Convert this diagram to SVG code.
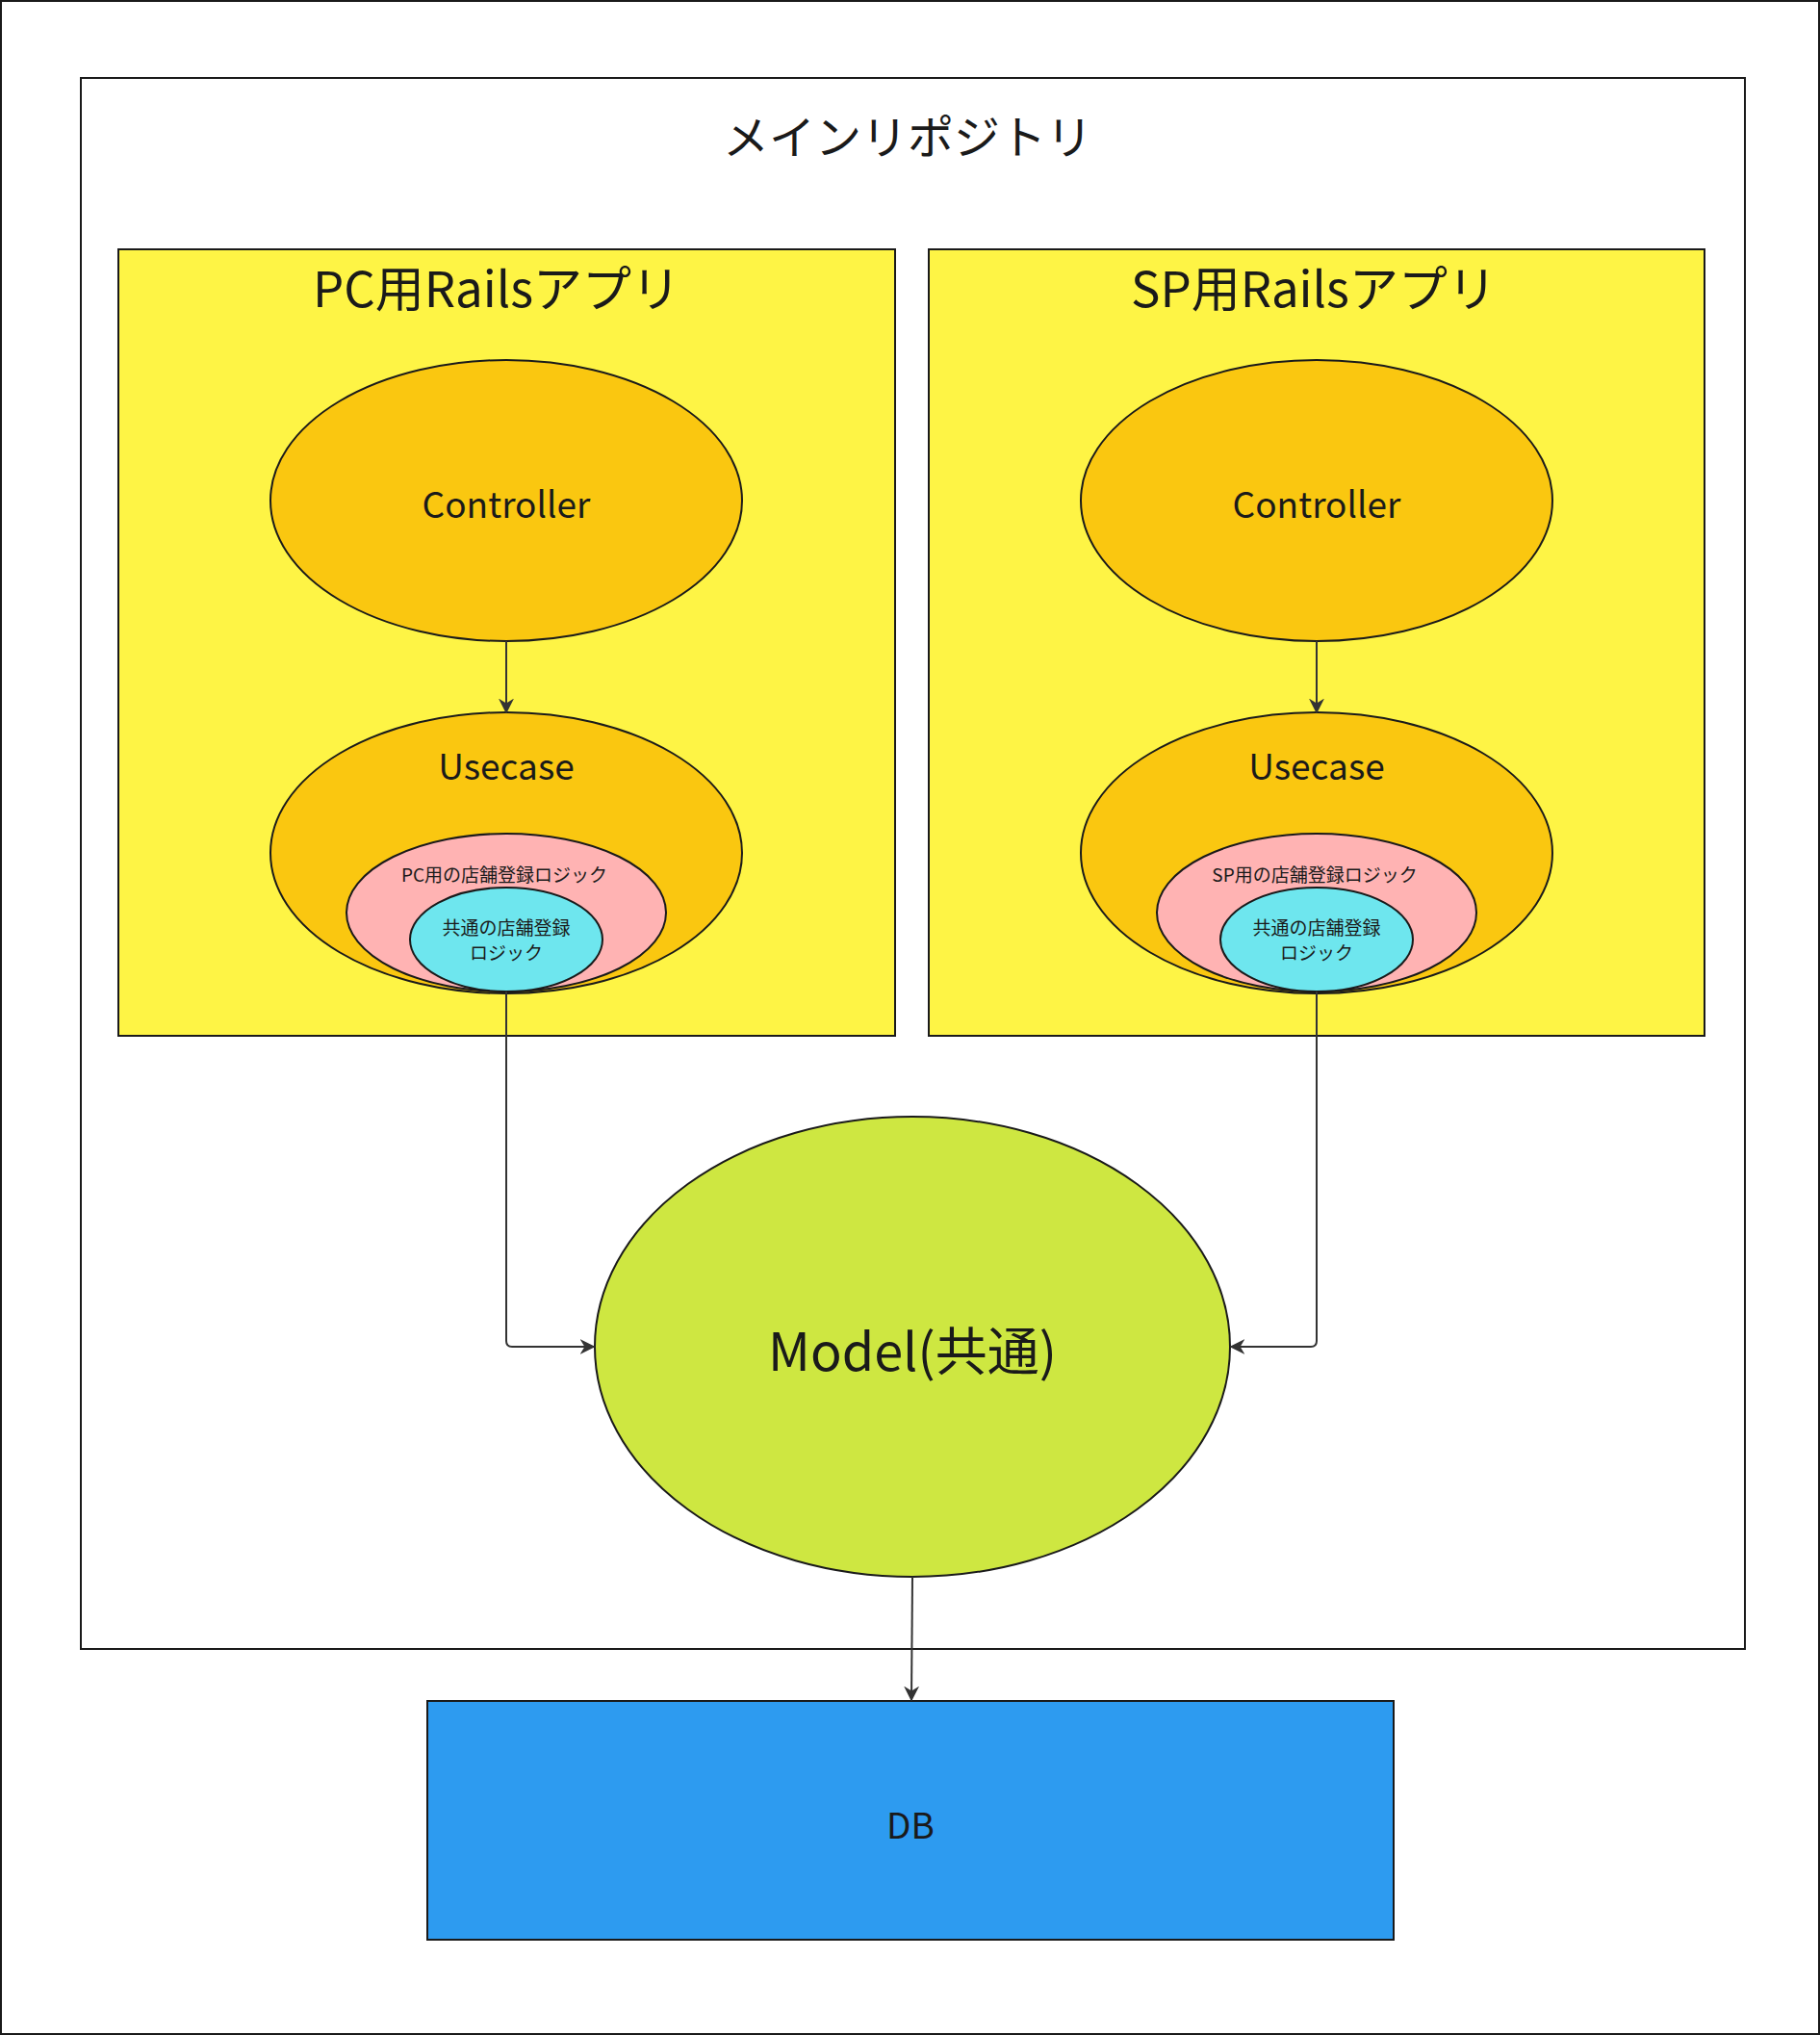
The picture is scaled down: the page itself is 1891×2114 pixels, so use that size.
<svg xmlns="http://www.w3.org/2000/svg" width="1891" height="2114" viewBox="0 0 1891 2114">
<style>
text{font-family:"Noto Sans CJK JP","Noto Sans",sans-serif;fill:#1a1a1a;text-anchor:middle;dominant-baseline:central}
.s{stroke:#1a1a1a;stroke-width:2}
.c{stroke:#333;stroke-width:2;fill:none;marker-end:url(#a)}
</style>
<defs><marker id="a" viewBox="0 0 10 10" refX="9" refY="5" markerWidth="8" markerHeight="8" orient="auto"><path d="M0,0L10,5L0,10L3,5Z" fill="#333"/></marker></defs>
<rect x="1" y="1" width="1889" height="2112" fill="#fff" class="s"/>
<g id="main"><rect x="84" y="81" width="1729" height="1632" fill="#fff" class="s"/><text x="943" y="139" font-size="48">メインリポジトリ</text></g>
<g id="pc"><rect x="123" y="259" width="807" height="817" fill="#fef445" class="s"/><text x="516" y="297" font-size="51">PC用Railsアプリ</text></g>
<g id="sp"><rect x="965" y="259" width="806" height="817" fill="#fef445" class="s"/><text x="1365" y="297" font-size="51">SP用Railsアプリ</text></g>
<g id="pc-controller"><ellipse cx="526" cy="520" rx="245" ry="146" fill="#fac710" class="s"/><text x="526" y="522" font-size="37">Controller</text></g>
<g id="pc-usecase"><ellipse cx="526" cy="886" rx="245" ry="146" fill="#fac710" class="s"/><text x="526" y="794" font-size="37">Usecase</text></g>
<g id="pc-logic"><ellipse cx="526" cy="948" rx="166" ry="82" fill="#ffb3b3" class="s"/><text x="524" y="907" font-size="19">PC用の店舗登録ロジック</text></g>
<g id="pc-common"><ellipse cx="526" cy="976" rx="100" ry="54" fill="#6ee6ee" class="s"/><text x="526" y="962" font-size="19">共通の店舗登録</text><text x="526" y="988" font-size="19">ロジック</text></g>
<g id="sp-controller"><ellipse cx="1368" cy="520" rx="245" ry="146" fill="#fac710" class="s"/><text x="1368" y="522" font-size="37">Controller</text></g>
<g id="sp-usecase"><ellipse cx="1368" cy="886" rx="245" ry="146" fill="#fac710" class="s"/><text x="1368" y="794" font-size="37">Usecase</text></g>
<g id="sp-logic"><ellipse cx="1368" cy="948" rx="166" ry="82" fill="#ffb3b3" class="s"/><text x="1366" y="907" font-size="19">SP用の店舗登録ロジック</text></g>
<g id="sp-common"><ellipse cx="1368" cy="976" rx="100" ry="54" fill="#6ee6ee" class="s"/><text x="1368" y="962" font-size="19">共通の店舗登録</text><text x="1368" y="988" font-size="19">ロジック</text></g>
<g id="model"><ellipse cx="948" cy="1399" rx="330" ry="239" fill="#cee741" class="s"/><text x="948" y="1400" font-size="54">Model(共通)</text></g>
<g id="db"><rect x="444" y="1767" width="1004" height="248" fill="#2d9bf0" class="s"/><text x="946" y="1894" font-size="37">DB</text></g>
<g id="connectors">
<path class="c" d="M526,666V740"/>
<path class="c" d="M1368,666V740"/>
<path class="c" d="M526,1030V1393Q526,1399 532,1399H617"/>
<path class="c" d="M1368,1030V1393Q1368,1399 1362,1399H1279"/>
<path class="c" d="M948,1638L947,1766"/>
</g>
</svg>
